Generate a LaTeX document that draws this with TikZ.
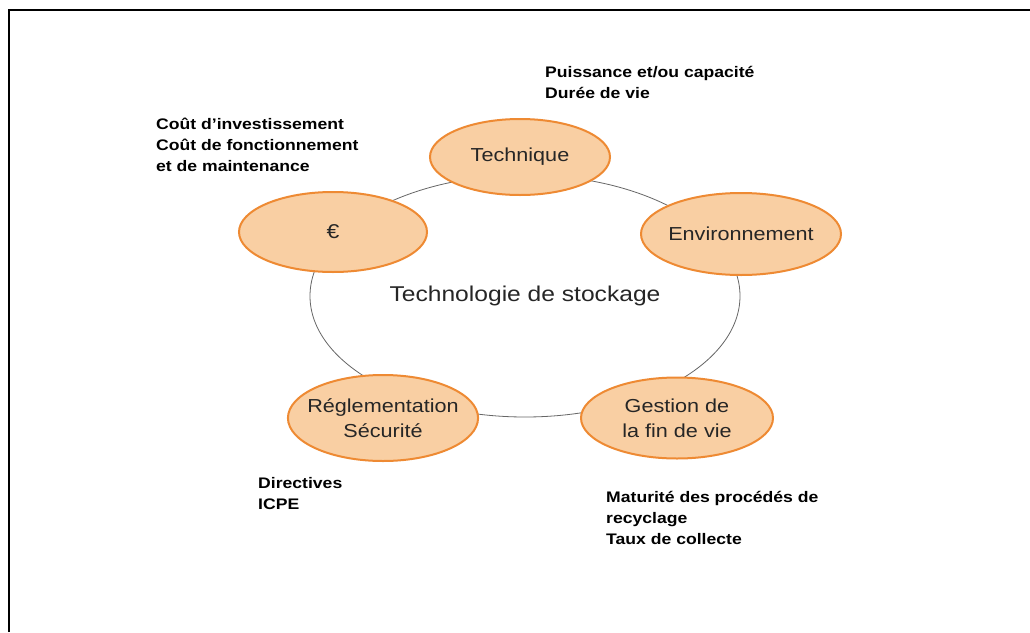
\documentclass[tikz,border=0pt]{standalone}
\usepackage{fontspec}
\setmainfont{Liberation Sans}[FakeStretch=1.15]
\usetikzlibrary{shapes.geometric}
\definecolor{fillor}{HTML}{F9CFA3}
\definecolor{lineor}{HTML}{EE8A33}
\begin{document}
\begin{tikzpicture}[x=1pt,y=-1pt,
  bubble/.style={ellipse,draw=lineor,fill=fillor,line width=2pt,inner sep=0pt,
    font=\fontsize{18.8}{25}\selectfont,text=black!85,align=center},
  note/.style={anchor=north west,align=left,font=\bfseries\fontsize{15.3}{21}\selectfont,inner sep=0pt}]
\useasboundingbox (0,0) rectangle (1030,632);
\fill[white] (0,0) rectangle (1030,632);
\draw[line width=2.5pt] (9,632) -- (9,10) -- (1030,10);
\node[font=\fontsize{21.4}{25}\selectfont,text=black!85] (center) at (525,296) {Technologie de stockage};
\draw[gray!80!black,line width=0.8pt] (center.center) ellipse [x radius=215,y radius=121];
\node[bubble,minimum width=180,minimum height=76] (tech) at (520,157) {Technique};
\node[bubble,minimum width=200,minimum height=82,inner xsep=-2.5pt] (env) at (741,234) {Environnement};
\node[bubble,minimum width=188,minimum height=80,font=\fontsize{20}{25}\selectfont] (eur) at (333,232) {€};
\node[bubble,minimum width=190,minimum height=86,inner xsep=-8.5pt] (reg) at (383,418) {Réglementation\\Sécurité};
\node[bubble,minimum width=192,minimum height=81] (fin) at (677,418) {Gestion de\\la fin de vie};
\node[note] (ntech) at (545,66) {Puissance et/ou capacité\\Durée de vie};
\node[note] (neur) at (156,118) {Coût d’investissement\\Coût de fonctionnement\\et de maintenance};
\node[note] (nreg) at (258,477) {Directives\\ICPE};
\node[note] (nfin) at (606,491) {Maturité des procédés de\\recyclage\\Taux de collecte};
\end{tikzpicture}
\end{document}
